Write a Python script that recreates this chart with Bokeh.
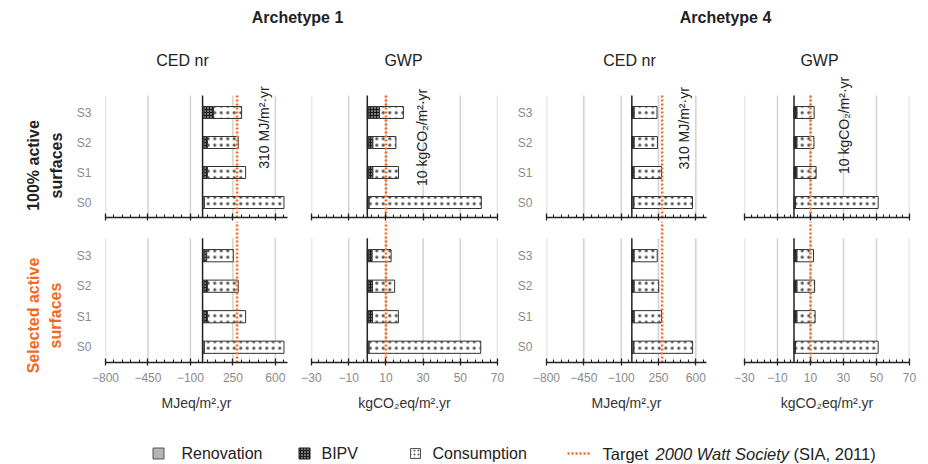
import math
from bokeh.plotting import figure
from bokeh.layouts import column, row
from bokeh.models import Range1d, FixedTicker, ColumnDataSource
from bokeh.core.properties import value
from bokeh.embed import file_html
from bokeh.resources import INLINE

# ---------------- data ----------------
scenarios = ["S0", "S1", "S2", "S3"]

ced_major = [-800, -450, -100, 250, 600]
gwp_major = [-30, -10, 10, 30, 50, 70]

ced_target = 284          # drawn position of the 310 MJ/m2.yr line
gwp_target = 10

# Archetype 1 - CED nr  (MJeq/m2.yr)
a1_ced_all_ren = [15, 12, 12, 12]
a1_ced_all_bipv = [0, 28, 28, 79]
a1_ced_all_cons = [656, 315, 254, 231]
a1_ced_sel_ren = [15, 12, 12, 12]
a1_ced_sel_bipv = [0, 28, 28, 22]
a1_ced_sel_cons = [656, 315, 254, 219]

# Archetype 1 - GWP (kgCO2eq/m2.yr)
a1_gwp_all_ren = [1.0, 0.8, 0.8, 0.8]
a1_gwp_all_bipv = [0, 2.2, 2.2, 5.8]
a1_gwp_all_cons = [60.3, 13.8, 12.4, 12.8]
a1_gwp_sel_ren = [1.0, 0.8, 0.8, 0.8]
a1_gwp_sel_bipv = [0, 2.0, 2.0, 1.8]
a1_gwp_sel_cons = [60.0, 13.9, 11.9, 10.2]

# Archetype 4 - CED nr
a4_ced_all_ren = [20, 8, 8, 8]
a4_ced_all_bipv = [0, 14, 14, 14]
a4_ced_all_cons = [549, 256, 218, 214]
a4_ced_sel_ren = [20, 8, 8, 8]
a4_ced_sel_bipv = [0, 15, 14, 14]
a4_ced_sel_cons = [550, 255, 230, 216]

# Archetype 4 - GWP
a4_gwp_all_ren = [0.9, 0.6, 0.6, 0.6]
a4_gwp_all_bipv = [0, 1.2, 1.2, 1.2]
a4_gwp_all_cons = [50.1, 11.6, 10.3, 10.4]
a4_gwp_sel_ren = [0.9, 0.6, 0.6, 0.6]
a4_gwp_sel_bipv = [0, 1.2, 1.2, 1.2]
a4_gwp_sel_cons = [50.1, 11.0, 10.7, 10.0]

# ---------------- style ----------------
FONT = "Liberation Sans"
ORANGE = "#f26a21"
GREY = "#b4b4b4"
TICKGREY = "#8a8a8a"
DARK = "#222222"

ycent = [i + 0.5 for i in range(len(scenarios))]   # category centres
NCAT = len(scenarios)


def blank_fig(w, h):
    p = figure(width=w, height=h, x_range=Range1d(0, w), y_range=Range1d(0, h),
               output_backend="svg", toolbar_location=None,
               x_axis_location=None, y_axis_location=None,
               min_border_left=0, min_border_right=0, min_border_top=0, min_border_bottom=0)
    p.title.visible = False
    p.grid.visible = False
    p.outline_line_color = None
    return p


def panel(kind, ren, bipv, cons, top, show_y, width, mbl, mbr,
          label_text=None, label_dx=0, label_y=3.0):
    if top:
        height, mbb, ytop = 151, 4, 4.9
    else:
        height, mbb, ytop = 199, 58, 4.62
    if kind == "ced":
        xr = Range1d(-800, 700)
        majors = ced_major
        minors = list(range(-800, 701, 70))
        target = ced_target
        xlabel = "MJeq/m².yr"
    else:
        xr = Range1d(-30, 70)
        majors = gwp_major
        minors = list(range(-30, 71, 4))
        target = gwp_target
        xlabel = "kgCO₂eq/m².yr"

    p = figure(width=width, height=height, x_range=xr, y_range=Range1d(0, ytop),
               output_backend="svg", toolbar_location=None,
               y_axis_location="left" if show_y else None,
               min_border_left=mbl, min_border_right=mbr,
               min_border_top=0, min_border_bottom=mbb)
    p.title.visible = False
    p.outline_line_color = None
    p.grid.visible = False

    xa = p.xaxis[0]
    xa.ticker = FixedTicker(ticks=majors, minor_ticks=minors)
    xa.axis_line_color = DARK
    xa.axis_line_width = 1.3
    xa.major_tick_line_color = DARK
    xa.major_tick_line_width = 1.3
    xa.minor_tick_line_color = DARK
    xa.minor_tick_line_width = 1.1
    xa.major_tick_in = 4
    xa.major_tick_out = 3
    xa.minor_tick_in = 3
    xa.minor_tick_out = 0
    if top:
        xa.major_label_overrides = {t: "" for t in majors}
        xa.major_label_text_font_size = "0px"
        xa.major_label_standoff = 0
    else:
        xa.major_label_text_font = FONT
        xa.major_label_text_font_size = "12px"
        xa.major_label_text_color = TICKGREY
        xa.major_label_standoff = 7
        xa.axis_label = xlabel
        xa.axis_label_text_font = FONT
        xa.axis_label_text_font_size = "14px"
        xa.axis_label_text_font_style = "normal"
        xa.axis_label_text_color = "#333333"
        xa.axis_label_standoff = 10

    if show_y:
        ya = p.yaxis[0]
        ya.ticker = FixedTicker(ticks=ycent, minor_ticks=[])
        ya.major_label_overrides = {c: s for c, s in zip(ycent, scenarios)}
        ya.axis_line_color = None
        ya.major_tick_line_color = None
        ya.minor_tick_line_color = None
        ya.major_label_text_font = FONT
        ya.major_label_text_font_size = "12px"
        ya.major_label_text_color = TICKGREY
        ya.major_label_standoff = 8

    # vertical grid lines at the major ticks, spanning the category block
    p.segment(x0=majors, y0=[0] * len(majors), x1=majors, y1=[NCAT + 0.07] * len(majors),
              line_color="#d2d2d2", line_width=1.5)

    src = ColumnDataSource(dict(yc=ycent, ren=ren, bipv=bipv, cons=cons))
    p.hbar_stack(["ren", "bipv", "cons"], y="yc", height=0.4, source=src,
                 fill_color=[GREY, "#1c1c1c", "white"],
                 line_color="#333333", line_width=1,
                 hatch_pattern=[" ", "dot", "dot"],
                 hatch_color=[GREY, "white", "#555555"],
                 hatch_scale=[4, 3, 6.5], hatch_weight=[1, 1, 0.9])

    # zero line
    p.segment(x0=[0], y0=[0], x1=[0], y1=[NCAT + 0.07], line_color=DARK, line_width=1.5)
    # target line (bottom row reaches the top of its canvas to join the upper one)
    p.segment(x0=[target], y0=[0], x1=[target], y1=[NCAT + 0.07 if top else ytop],
              line_color=ORANGE, line_width=2.5, line_dash="2 2")
    if label_text:
        p.text(x=[target], y=[label_y], text=[label_text], x_offset=label_dx,
               angle=math.pi / 2, text_align="center", text_baseline="middle",
               text_font=value(FONT), text_font_size="14px", text_color=DARK)
    return p


# ---------------- header ----------------
hdr = blank_fig(928, 70)
hdr.text(x=[297, 725], y=[53, 53], text=["Archetype 1", "Archetype 4"],
         text_font=value(FONT), text_font_size="16px", text_font_style="bold",
         text_align="center", text_baseline="middle", text_color=DARK)
hdr.text(x=[182, 403, 629, 819], y=[10, 10, 10, 10], text=["CED nr", "GWP", "CED nr", "GWP"],
         text_font=value(FONT), text_font_size="16px",
         text_align="center", text_baseline="middle", text_color=DARK)

# ---------------- row labels (one tall canvas for both rows) ----------------
lab = blank_fig(68, 350)
lab.text(x=[33, 56], y=[255, 255], text=["100% active", "surfaces"], angle=math.pi / 2,
         text_font=value(FONT), text_font_size="16px", text_font_style="bold",
         text_align="center", text_baseline="middle", text_color=DARK)
lab.text(x=[33, 55], y=[105, 105], text=["Selected active", "surfaces"], angle=math.pi / 2,
         text_font=value(FONT), text_font_size="16px", text_font_style="bold",
         text_align="center", text_baseline="middle", text_color=ORANGE)

# ---------------- panels ----------------
p1t = panel("ced", a1_ced_all_ren, a1_ced_all_bipv, a1_ced_all_cons, True, True, 227, 37, 8,
            "310 MJ/m²·yr", 27, 3.0)
p2t = panel("gwp", a1_gwp_all_ren, a1_gwp_all_bipv, a1_gwp_all_cons, True, False, 211, 16, 9,
            "10 kgCO₂/m²·yr", 36, 2.67)
p3t = panel("ced", a4_ced_all_ren, a4_ced_all_bipv, a4_ced_all_cons, True, True, 208, 40, 8,
            "310 MJ/m²·yr", 22, 2.97)
p4t = panel("gwp", a4_gwp_all_ren, a4_gwp_all_bipv, a4_gwp_all_cons, True, False, 214, 30, 19,
            "10 kgCO₂/m²·yr", 33, 3.07)

p1b = panel("ced", a1_ced_sel_ren, a1_ced_sel_bipv, a1_ced_sel_cons, False, True, 227, 37, 8)
p2b = panel("gwp", a1_gwp_sel_ren, a1_gwp_sel_bipv, a1_gwp_sel_cons, False, False, 211, 16, 9)
p3b = panel("ced", a4_ced_sel_ren, a4_ced_sel_bipv, a4_ced_sel_cons, False, True, 208, 40, 8)
p4b = panel("gwp", a4_gwp_sel_ren, a4_gwp_sel_bipv, a4_gwp_sel_cons, False, False, 214, 30, 19)

# ---------------- legend ----------------
leg = blank_fig(928, 44)
ly = 11
leg.rect(x=[158], y=[ly], width=11, height=11, width_units="screen", height_units="screen",
         fill_color=GREY, line_color="#555555")
leg.rect(x=[304], y=[ly], width=11, height=11, width_units="screen", height_units="screen",
         fill_color="#1c1c1c", line_color="#1c1c1c", hatch_pattern="dot",
         hatch_color="white", hatch_scale=3)
leg.rect(x=[415], y=[ly], width=10, height=10, width_units="screen", height_units="screen",
         fill_color="white", line_color="#555555", hatch_pattern="dot",
         hatch_color="#555555", hatch_scale=4)
leg.segment(x0=[567], y0=[ly], x1=[591], y1=[ly], line_color=ORANGE, line_width=2.5,
            line_dash="2 2")
leg.text(x=[181, 321, 432], y=[ly] * 3,
         text=["Renovation", "BIPV", "Consumption"],
         text_font=value(FONT), text_font_size="16px",
         text_align="left", text_baseline="middle", text_color=DARK)
leg.text(x=[602, 793], y=[ly] * 2, text=["Target", "(SIA, 2011)"],
         text_font=value(FONT), text_font_size="16.5px",
         text_align="left", text_baseline="middle", text_color=DARK)
leg.text(x=[655], y=[ly], text=["2000 Watt Society"],
         text_font=value(FONT), text_font_size="16.5px", text_font_style="italic",
         text_align="left", text_baseline="middle", text_color=DARK)

layout = column(
    hdr,
    row(lab,
        column(row(p1t, p2t, p3t, p4t),
               row(p1b, p2b, p3b, p4b))),
    leg,
)

open("out.html", "w").write(file_html(layout, INLINE))
